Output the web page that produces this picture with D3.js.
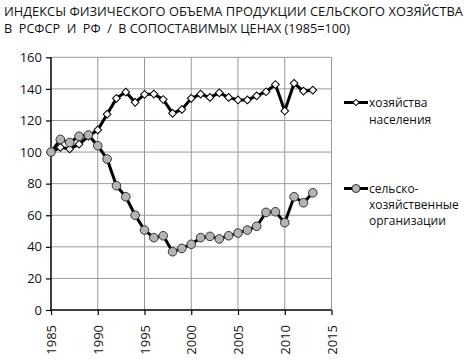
<!DOCTYPE html>
<html><head><meta charset="utf-8">
<script src="https://cdn.jsdelivr.net/npm/d3@7"></script>
<style>body{margin:0;background:#fff}svg{display:block}</style>
</head><body>
<script>
const years = d3.range(1985, 2014);
const households = [100,103,102,105,110,114,124,134,138,131.5,136.5,136.7,133.3,124.5,127,134,136.7,134.6,137.5,134.6,133,133,135.6,138.2,142.8,126,143.5,138.6,139.2];
const organizations = [100,108,106,110,110.8,104,95.6,78.7,71.7,60,50.6,45.8,47,36.9,39,41.6,45.8,46.6,45,47,48.7,50.6,53,61.8,62.2,55.3,71.7,67.9,74.2];
const yTicks = [0,20,40,60,80,100,120,140,160];
const xTicks = [1985,1990,1995,2000,2005,2010,2015];
const titleLines = ["ИНДЕКСЫ ФИЗИЧЕСКОГО ОБЪЕМА ПРОДУКЦИИ СЕЛЬСКОГО ХОЗЯЙСТВА","В  РСФСР  И  РФ  /  В СОПОСТАВИМЫХ ЦЕНАХ (1985=100)"];
const legend1 = ["хозяйства","населения"];
const legend2 = ["сельско-","хозяйственные","организации"];

const W=469,H=364;
const svg=d3.select("body").append("svg").attr("width",W).attr("height",H);
const x=d3.scaleLinear().domain([1985,2015]).range([51,331.5]);
const y=d3.scaleLinear().domain([0,160]).range([310,57.3]);
const font="'Open Sans', sans-serif";

// title
svg.selectAll("text.title").data(titleLines).join("text")
  .attr("x",4).attr("y",(d,i)=>16+i*17)
  .style("white-space","pre")
  .attr("font-family",font).attr("font-size",13).attr("fill","#111")
  .attr("textLength",(d,i)=>i===0?459:346).attr("lengthAdjust","spacingAndGlyphs")
  .text(d=>d);

// grid
svg.append("g").selectAll("line").data(yTicks.filter(d=>d>0)).join("line")
  .attr("x1",x(1985)).attr("x2",x(2015)).attr("y1",d=>y(d)).attr("y2",d=>y(d))
  .attr("stroke","#999").attr("stroke-width",1);
svg.append("g").selectAll("line").data(xTicks.filter(d=>d>1985)).join("line")
  .attr("x1",d=>x(d)).attr("x2",d=>x(d)).attr("y1",y(0)).attr("y2",y(160))
  .attr("stroke","#999").attr("stroke-width",1);

// axes
const yAxis=svg.append("g").attr("transform",`translate(${x(1985)},0)`)
  .call(d3.axisLeft(y).tickValues(yTicks).tickSize(5).tickPadding(4));
const xAxis=svg.append("g").attr("transform",`translate(0,${y(0)})`)
  .call(d3.axisBottom(x).tickValues(xTicks).tickSize(5).tickFormat(d3.format("d")));
[yAxis,xAxis].forEach(a=>{
  a.select(".domain").attr("stroke","#000").attr("stroke-width",1.5);
  a.selectAll(".tick line").attr("stroke","#000").attr("stroke-width",1.2);
  a.selectAll("text").attr("font-family",font).attr("font-size",13).attr("fill","#111");
});
yAxis.select(".domain").attr("d",`M0,${y(0)}V${y(160)}`);
xAxis.select(".domain").attr("d",`M${x(1985)},0H${x(2015)}`);
xAxis.selectAll("text").attr("transform","rotate(-90)").attr("text-anchor","end")
  .attr("x",-15).attr("y",0).attr("dy","0.35em");

const line=d3.line().x((d,i)=>x(years[i])).y(d=>y(d));
svg.append("path").datum(organizations).attr("d",line).attr("fill","none").attr("stroke","#000").attr("stroke-width",3);
svg.append("path").datum(households).attr("d",line).attr("fill","none").attr("stroke","#000").attr("stroke-width",3);

svg.append("g").selectAll("path").data(households).join("path")
  .attr("d",d3.symbol().type(d3.symbolSquare).size(30))
  .attr("transform",(d,i)=>`translate(${x(years[i])},${y(d)}) rotate(45)`)
  .attr("fill","#fff").attr("stroke","#000").attr("stroke-width",1);
svg.append("g").selectAll("circle").data(organizations).join("circle")
  .attr("cx",(d,i)=>x(years[i])).attr("cy",d=>y(d)).attr("r",4.3)
  .attr("fill","#b4b4b4").attr("stroke","#333").attr("stroke-width",1);

// legend
const lg=svg.append("g");
lg.append("line").attr("x1",344).attr("x2",368).attr("y1",102.5).attr("y2",102.5).attr("stroke","#000").attr("stroke-width",3);
lg.append("path").attr("d",d3.symbol().type(d3.symbolSquare).size(20)).attr("transform","translate(356,102.5) rotate(45)")
  .attr("fill","#fff").attr("stroke","#000").attr("stroke-width",1);
lg.append("line").attr("x1",344).attr("x2",368).attr("y1",188.5).attr("y2",188.5).attr("stroke","#000").attr("stroke-width",3);
lg.append("circle").attr("cx",356).attr("cy",188.5).attr("r",4).attr("fill","#b4b4b4").attr("stroke","#333");
lg.selectAll("text.l1").data(legend1).join("text").attr("x",369).attr("y",(d,i)=>106.5+i*17)
  .attr("font-family",font).attr("font-size",12).attr("fill","#111").text(d=>d);
lg.selectAll("text.l2").data(legend2).join("text").attr("x",369).attr("y",(d,i)=>192.5+i*16)
  .attr("font-family",font).attr("font-size",12).attr("fill","#111").text(d=>d);
</script>
</body></html>
